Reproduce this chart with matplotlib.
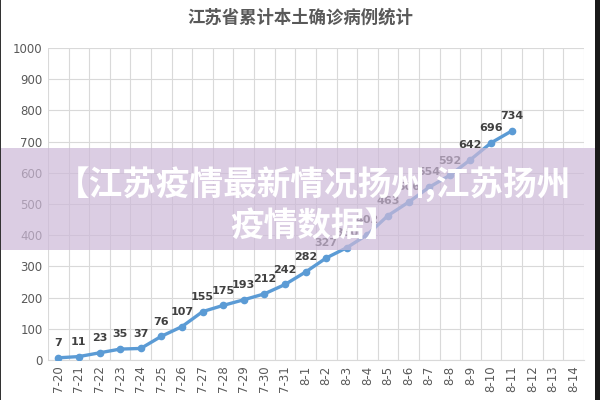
"""Jiangsu cumulative local confirmed cases, with overlay banner."""
import matplotlib
matplotlib.use("Agg")
import matplotlib.pyplot as plt
from matplotlib.patches import Rectangle

plt.rcParams["font.family"] = ["Noto Sans CJK SC", "DejaVu Sans"]

dates = (["7-%d" % d for d in range(20, 32)]
         + ["8-%d" % d for d in range(1, 15)])
cases = [7, 11, 23, 35, 37, 76, 107, 155, 175, 193, 212, 242, 282, 327,
         360, 402, 463, 506, 554, 592, 642, 696, 734]
title = "江苏省累计本土确诊病例统计"
banner = "【江苏疫情最新情况扬州,江苏扬州\n疫情数据】"

fig = plt.figure(figsize=(6, 4), dpi=100)
ax = fig.add_axes([0.08, 0.10, 0.893, 0.78])

x = list(range(len(cases)))
ax.plot(x, cases, color="#5b9bd5", linewidth=2.4, marker="o",
        markersize=4.5, zorder=3)
for xi, v in zip(x, cases):
    ax.annotate(str(v), (xi, v), xytext=(0, 7), textcoords="offset points",
                ha="center", va="bottom", fontsize=8, fontweight="bold",
                color="#404040", family="DejaVu Sans")

ax.set_xlim(-0.5, len(dates) - 0.5)
ax.set_ylim(0, 1000)
ax.set_yticks(range(0, 1001, 100))
ax.set_xticks(range(len(dates)))
ax.set_xticklabels(dates, rotation=90)
ax.set_xticks([i - 0.5 for i in range(len(dates) + 1)], minor=True)
ax.grid(False)
ax.grid(True, which="minor", axis="x", color="#d9d9d9", linewidth=0.8)
ax.grid(True, which="major", axis="y", color="#d9d9d9", linewidth=0.8)
ax.set_axisbelow(True)
ax.tick_params(axis="both", which="both", length=0, labelsize=8.5,
               labelcolor="#595959", pad=4)
for lab in ax.get_yticklabels() + ax.get_xticklabels():
    lab.set_family("DejaVu Sans")
for s in ["top", "right", "left"]:
    ax.spines[s].set_visible(False)
ax.spines["bottom"].set_color("#d9d9d9")

fig.text(0.5, 0.955, title, ha="center", va="center", fontsize=12.5,
         fontweight="bold", color="#595959")

# overlay banner
fig.patches.append(Rectangle((0, 0.375), 1, 0.255, transform=fig.transFigure,
                             facecolor="#cdb9d8", alpha=0.7, zorder=5))
fig.text(0.523, 0.49, banner, ha="center", va="center", fontsize=24.2,
         fontweight="bold", color="white", linespacing=1.3, zorder=6)

# dark frame edges
fig.patches.append(Rectangle((0.992, 0), 0.008, 1, transform=fig.transFigure,
                             facecolor="#1a1a1a", zorder=7))
fig.patches.append(Rectangle((0, 0), 0.002, 1, transform=fig.transFigure,
                             facecolor="#333333", zorder=7))

fig.savefig("out.png", dpi=100)
plt.close(fig)
